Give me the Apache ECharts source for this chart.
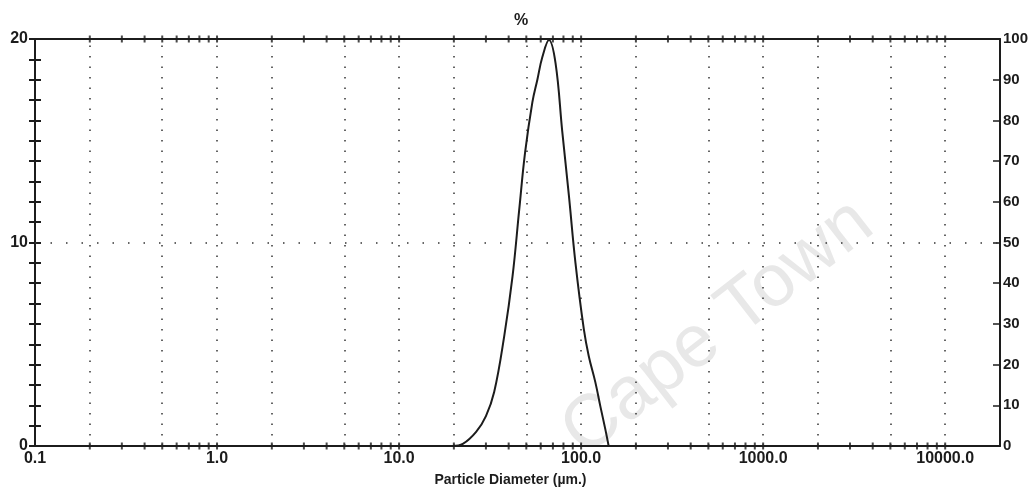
<!DOCTYPE html>
<html>
<head>
<meta charset="utf-8">
<title>Particle size distribution</title>
<script src="https://cdn.jsdelivr.net/npm/echarts@6/dist/echarts.min.js"></script>
<style>
    html, body {margin: 0; padding: 0; background: #fff;}
    #main {width: 1031px; height: 492px;}
</style>
</head>
<body>
<div id="main"></div>
<script>
// 粒径 (µm) 和 体积百分比
var diameter = [19.7, 22.4, 26.5, 30.0, 33.3, 37.8, 42.0, 45.7, 49.2, 54.0, 57.5, 61.2, 66.6,
    72.4, 78.7, 85.7, 93.1, 103.5, 110.2, 119.7, 127.5, 135.8, 141.7];
var volume = [0, 0.1, 0.69, 1.47, 2.65, 5.39, 8.33, 11.6, 14.4, 16.9, 18.0, 19.1, 19.95,
    18.8, 15.5, 12.3, 9.0, 5.74, 4.41, 3.14, 1.96, 0.83, 0];

// 竖向虚线网格 (1, 2, 5 每个数量级)
var gridX = [0.2, 0.5, 1, 2, 5, 10, 20, 50, 100, 200, 500, 1000, 2000, 5000, 10000];
// x轴上的小刻度 (2..9 每个数量级)
var tickX = [0.2, 0.3, 0.4, 0.5, 0.6, 0.7, 0.8, 0.9, 1, 2, 3, 4, 5, 6, 7, 8, 9,
    10, 20, 30, 40, 50, 60, 70, 80, 90, 100, 200, 300, 400, 500, 600, 700, 800, 900,
    1000, 2000, 3000, 4000, 5000, 6000, 7000, 8000, 9000, 10000];
// 横向虚线
var gridY = [10];

var lineData = [];
for (var i = 0; i < diameter.length; i++) {
    lineData.push([diameter[i], volume[i]]);
}
var tickData = [];
for (var j = 0; j < tickX.length; j++) {
    tickData.push([tickX[j], 0]);
    tickData.push([tickX[j], 20]);
}

var ink = '#1c1c1c';
var font = 'Liberation Sans';

function isPow10(v) {
    var l = Math.log(v) / Math.LN10;
    return Math.abs(l - Math.round(l)) < 1e-6;
}

var chart = echarts.init(document.getElementById('main'));
var option = {
    animation: false,
    title: {
        text: '%',
        left: 509,
        top: 8,
        textStyle: {fontSize: 16, fontWeight: 'bold', color: ink, fontFamily: font}
    },
    grid: {left: 35, right: 27, top: 39, bottom: 45},
    graphic: [{
        type: 'text',
        x: 718,
        y: 328,
        rotation: 0.66,
        z: -10,
        style: {
            text: 'Cape Town',
            font: '74px "Liberation Sans"',
            fill: '#e8e8e8',
            align: 'center',
            verticalAlign: 'middle'
        }
    }],
    xAxis: [
        {
            type: 'log',
            logBase: 10,
            min: 0.1,
            max: 20000,
            name: 'Particle Diameter (µm.)',
            nameLocation: 'middle',
            nameGap: 27,
            nameTextStyle: {fontSize: 14, fontWeight: 'bold', color: ink, fontFamily: font, padding: [0, 14, 0, 0]},
            axisLine: {show: true, onZero: false, lineStyle: {color: ink, width: 2}},
            axisTick: {show: false},
            splitLine: {show: false},
            axisLabel: {
                margin: 5,
                fontSize: 16,
                fontWeight: 'bold',
                color: ink,
                fontFamily: font,
                showMaxLabel: false,
                formatter: function (v) {
                    return isPow10(v) ? Number(v).toFixed(1) : '';
                }
            }
        },
        {
            // 上边框
            type: 'log',
            logBase: 10,
            min: 0.1,
            max: 20000,
            position: 'top',
            axisLine: {show: true, onZero: false, lineStyle: {color: ink, width: 2}},
            axisTick: {show: false},
            axisLabel: {show: false},
            splitLine: {show: false}
        }
    ],
    yAxis: [
        {
            type: 'value',
            position: 'left',
            min: 0,
            max: 20,
            interval: 1,
            axisLine: {show: true, onZero: false, lineStyle: {color: ink, width: 2}},
            axisTick: {show: true, length: 6, lineStyle: {color: ink, width: 2}},
            splitLine: {show: false},
            axisLabel: {
                margin: 7,
                fontSize: 16,
                fontWeight: 'bold',
                color: ink,
                fontFamily: font,
                padding: [0, 0, 10, 0],
                formatter: function (v) {
                    return v % 10 === 0 ? String(v) : '';
                }
            }
        },
        {
            // 左轴刻度内侧一半
            type: 'value',
            position: 'left',
            min: 0,
            max: 20,
            interval: 1,
            axisLine: {show: true, onZero: false, lineStyle: {color: ink, width: 2}},
            axisTick: {show: true, inside: true, length: 6, lineStyle: {color: ink, width: 2}},
            axisLabel: {show: false},
            splitLine: {show: false}
        },
        {
            type: 'value',
            position: 'right',
            min: 0,
            max: 100,
            interval: 10,
            axisLine: {show: true, onZero: false, lineStyle: {color: ink, width: 2}},
            axisTick: {show: true, inside: true, length: 7, lineStyle: {color: ink, width: 1.5}},
            splitLine: {show: false},
            axisLabel: {
                margin: 3,
                fontSize: 15,
                fontWeight: 'bold',
                color: ink,
                fontFamily: font,
                padding: [0, 0, 8, 0]
            }
        }
    ],
    series: [
        {
            name: 'volume',
            type: 'line',
            data: lineData,
            smooth: 0.4,
            showSymbol: false,
            lineStyle: {color: ink, width: 2},
            z: 5,
            markLine: {
                silent: true,
                symbol: ['none', 'none'],
                label: {show: false},
                lineStyle: {color: '#333', width: 1.5, type: [1.5, 9]},
                data: gridX.map(function (v) { return {xAxis: v}; })
                    .concat(gridY.map(function (v) { return {yAxis: v, lineStyle: {type: [1.5, 14]}}; }))
            }
        },
        {
            // 轴上的小刻度
            name: 'ticks',
            type: 'scatter',
            data: tickData,
            symbol: 'rect',
            symbolSize: [2, 7],
            itemStyle: {color: ink},
            silent: true,
            z: 6
        }
    ]
};
chart.setOption(option);
</script>
</body>
</html>
